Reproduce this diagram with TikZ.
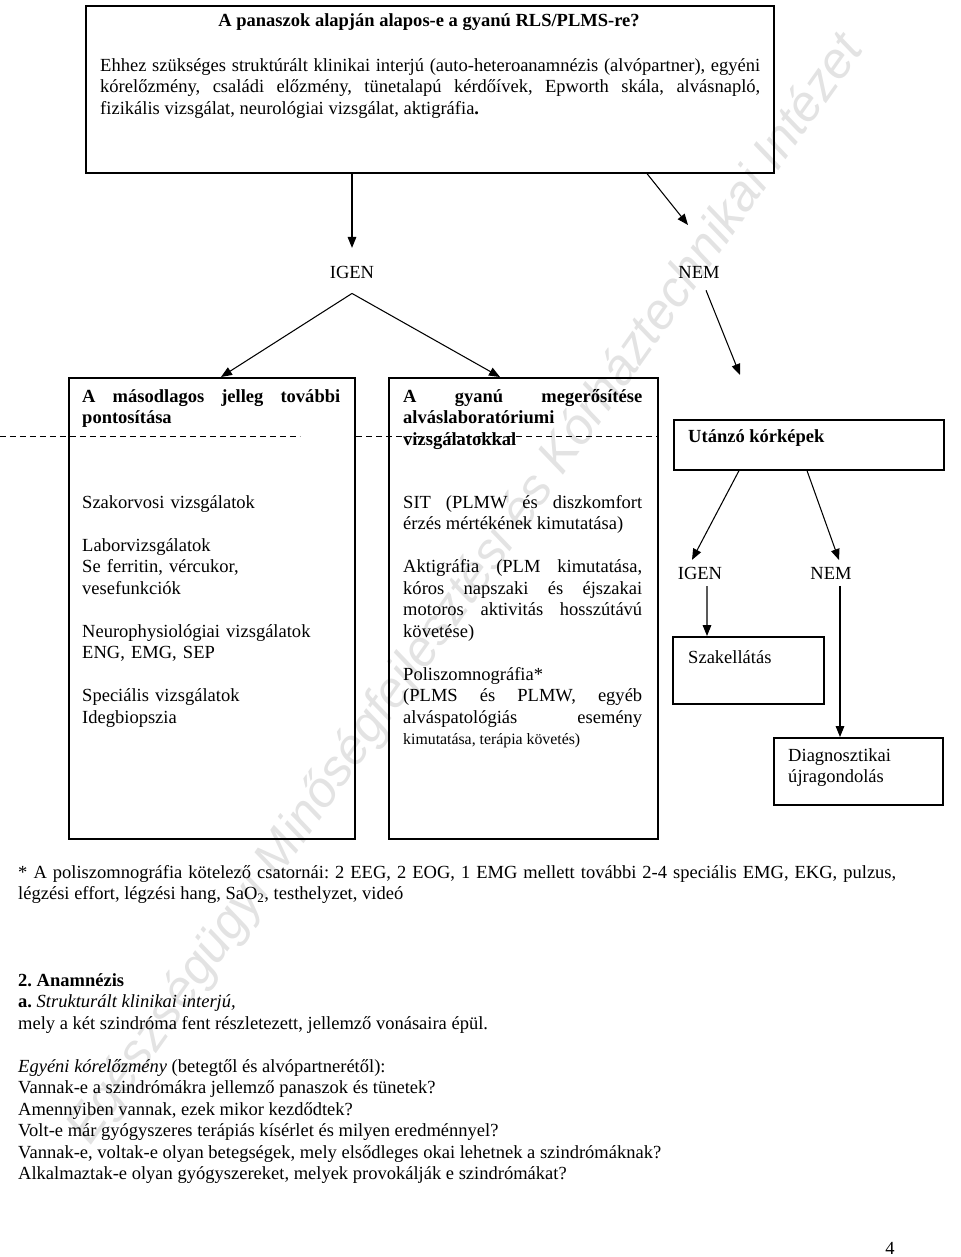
\documentclass[tikz,border=0pt]{standalone}
\usepackage{fontspec}
\setmainfont{Liberation Serif}
\newfontfamily\wmfont{Liberation Sans}
\usetikzlibrary{arrows.meta}
\usetikzlibrary{calc}
\newcommand{\bodyfont}{\fontsize{15.8pt}{18.35pt}\selectfont\frenchspacing\hyphenpenalty=10000 \exhyphenpenalty=10000 }
\newcommand{\grpgap}{\par\vspace{18.35pt}}
\tikzstyle{block} = [draw, line width=1.4pt, anchor=north west, inner sep=0pt]
\tikzstyle{arrow} = [-{Triangle[length=3.3mm, width=2.6mm]}, line width=0.9pt]
\tikzstyle{txt} = [anchor=north west, inner sep=0pt, font=\bodyfont]
\tikzstyle{answer} = [inner sep=0pt, font=\bodyfont]
\tikzstyle{dashline} = [dash pattern=on 0.18cm off 0.12cm, line width=0.8pt]

\begin{document}
\begin{tikzpicture}
			\useasboundingbox (0,0) rectangle (28.8,-37.71);
			
			% watermark
			\node (wm) [rotate=54.8, text=gray!22, font=\wmfont\itshape\fontsize{43pt}{43pt}\selectfont] at (14.0,-17.7) {Egészségügyi Minőségfejlesztési és Kórháztechnikai Intézet};
			
			% question box
			\node (panasz) [block, minimum width=20.64cm, minimum height=5.01cm] at (2.55,-0.15) {};
			\node (titel) [font=\bodyfont\bfseries] at (12.87,-0.66) {A panaszok alapján alapos-e a gyanú RLS/PLMS-re?};
			\node (kerdes) [txt, text width=19.8cm, align=justify] at (3.0,-1.74) {Ehhez szükséges struktúrált klinikai interjú (auto-heteroanamnézis (alvópartner), egyéni\linebreak kórelőzmény, családi előzmény, tünetalapú kérdőívek, Epworth skála, alvásnapló,\linebreak fizikális vizsgálat, neurológiai vizsgálat, aktigráfia\textbf{.}};
			
			\node (igen1) [answer] at (10.56,-8.16) {IGEN};
			\node (nem1) [answer] at (20.97,-8.16) {NEM};
			\coordinate (nemtip) at (20.64,-6.75);
			\coordinate (utip) at (22.2,-11.25);
			\draw [arrow] (panasz.south -| igen1) -- ([yshift=0.53cm]igen1.north);
			\draw [arrow] ($(panasz.south west)+(16.86,0)$) -- (nemtip);
			
			% second row
			\node (masod) [block, minimum width=8.58cm, minimum height=13.83cm] at (2.04,-11.31) {};
			\node (gyanu) [block, minimum width=8.07cm, minimum height=13.83cm] at (11.64,-11.31) {};
			\node (utanzo) [block, minimum width=8.1cm, minimum height=1.5cm] at (20.19,-12.57) {};
			\draw [arrow] ([yshift=-0.45cm]igen1.south) -- ($(masod.north west)+(4.59,0)$);
			\draw [arrow] ([yshift=-0.45cm]igen1.south) -- ($(gyanu.north west)+(3.36,0)$);
			\draw [arrow] ([shift={(0.21,-0.36)}]nem1.south) -- (utip);
			
			\draw [dashline] (0,-13.08) -- (9.0,-13.08);
			\draw [dashline] (10.68,-13.08) -- (gyanu.east |- 0,-13.08);
			
			\node (masodcim) [txt, text width=7.74cm, align=justify, font=\bodyfont\bfseries] at (2.46,-11.67) {A másodlagos jelleg további\linebreak pontosítása};
			\node (gyanucim) [txt, text width=7.17cm, align=justify, font=\bodyfont\bfseries] at (12.09,-11.67) {A gyanú megerősítése\linebreak alváslaboratóriumi\\ vizsgálatokkal};
			\node (utanzocim) [anchor=west, inner sep=0pt, font=\bodyfont\bfseries] at (20.64,-13.14) {Utánzó kórképek};
			
			\node (masodlist) [txt, text width=7.74cm, align=left] at (2.46,-14.85) {Szakorvosi vizsgálatok\grpgap Laborvizsgálatok\\ Se ferritin, vércukor,\\ vesefunkciók\grpgap Neurophysiológiai vizsgálatok\\ ENG, EMG, SEP\grpgap Speciális vizsgálatok\\ Idegbiopszia};
			\node (gyanulist) [txt, text width=7.17cm, align=justify] at (12.09,-14.85) {SIT (PLMW és diszkomfort\linebreak érzés mértékének kimutatása)\grpgap Aktigráfia (PLM kimutatása,\linebreak kóros napszaki és éjszakai\linebreak motoros aktivitás hosszútávú\linebreak követése)\grpgap Poliszomnográfia*\\ (PLMS és PLMW, egyéb\linebreak alváspatológiás esemény\linebreak {\fontsize{13.5pt}{18.35pt}\selectfont kimutatása, terápia követés)}};
			
			% right column
			\node (igen2) [answer] at (21.0,-17.19) {IGEN};
			\node (nem2) [answer] at (24.93,-17.19) {NEM};
			\draw [arrow] ($(utanzo.south west)+(1.98,0)$) -- ([shift={(-0.24,0.2)}]igen2.north);
			\draw [arrow] ($(utanzo.south west)+(4.02,0)$) -- ([shift={(0.24,0.2)}]nem2.north);
			
			\node (szak) [block, minimum width=4.53cm, minimum height=2.01cm] at (20.16,-19.08) {};
			\node (diag) [block, minimum width=5.07cm, minimum height=2.01cm] at (23.19,-22.11) {};
			\draw [arrow] ([shift={(0.21,-0.2)}]igen2.south) -- ($(szak.north west)+(1.05,0)$);
			\draw [arrow] ([shift={(0.27,-0.2)}]nem2.south) -- ($(diag.north west)+(2.01,0)$);
			\node (szakcim) [anchor=west, inner sep=0pt, font=\bodyfont] at (20.64,-19.71) {Szakellátás};
			\node (diagcim) [txt, align=left] at (23.64,-22.44) {Diagnosztikai\\ újragondolás};
			
			% notes below
			\node (labj) [txt, text width=26.34cm, align=justify] at (0.54,-25.95) {* A poliszomnográfia kötelező csatornái: 2 EEG, 2 EOG, 1 EMG mellett további 2-4 speciális EMG, EKG, pulzus,\linebreak légzési effort, légzési hang, SaO\textsubscript{2}, testhelyzet, videó};
			\node (anam) [txt, align=left] at (0.54,-29.19) {\textbf{2. Anamnézis}\\ \textbf{a.} \textit{Strukturált klinikai interjú,}\\ mely a két szindróma fent részletezett, jellemző vonásaira épül.\\[18.35pt] \textit{Egyéni kórelőzmény} (betegtől és alvópartnerétől):\\ Vannak-e a szindrómákra jellemző panaszok és tünetek?\\ Amennyiben vannak, ezek mikor kezdődtek?\\ Volt-e már gyógyszeres terápiás kísérlet és milyen eredménnyel?\\ Vannak-e, voltak-e olyan betegségek, mely elsődleges okai lehetnek a szindrómáknak?\\ Alkalmaztak-e olyan gyógyszereket, melyek provokálják e szindrómákat?};
			\node (oldal) [font=\bodyfont] at (26.7,-37.44) {4};
			
		\end{tikzpicture}
\end{document}
